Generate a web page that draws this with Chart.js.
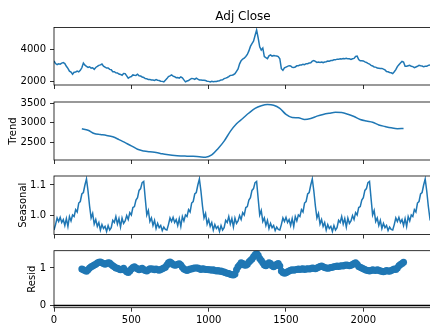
<!DOCTYPE html>
<html>
<head>
<meta charset="utf-8">
<script src="https://cdn.jsdelivr.net/npm/chart.js@4.4.0/dist/chart.umd.min.js"></script>
<style>
  html, body { margin: 0; padding: 0; background: #fff; overflow: hidden; width: 430px; height: 325px; }
  canvas { position: absolute; left: 0; top: 0; }
</style>
</head>
<body>
<canvas id="obs" width="440" height="325"></canvas>
<canvas id="trend" width="440" height="325"></canvas>
<canvas id="seas" width="440" height="325"></canvas>
<canvas id="resid" width="440" height="325"></canvas>
<script>
// time index runs 0..2444, values read every 10 steps
const xStep = 10;
const xMax = 2444;
const xTicks = [0, 500, 1000, 1500, 2000];

const observed = [
  3280,3120,3060,3110,3080,3150,3180,3120,2950,2820,
  2650,2590,2460,2580,2600,2660,2610,2700,2860,3150,
  3020,2950,2880,2920,2840,2860,2760,2880,2940,3010,
  3040,3090,2960,2900,2840,2850,2760,2740,2620,2620,
  2550,2540,2470,2450,2400,2510,2500,2360,2220,2280,
  2320,2420,2400,2390,2460,2370,2350,2290,2260,2190,
  2180,2130,2130,2100,2110,2080,2130,2090,2070,2030,
  2020,1990,2090,2190,2320,2360,2420,2340,2310,2250,
  2260,2220,2290,2240,2110,1990,2040,2070,2140,2200,
  2190,2140,2220,2160,2110,2110,2090,2090,2070,2030,
  2020,1990,2030,2000,2005,2010,2040,2060,2110,2120,
  2190,2220,2260,2310,2390,2400,2430,2490,2640,2790,
  3100,3300,3400,3450,3560,3680,3900,4180,4350,4500,
  4850,5190,4700,4150,3950,4080,3550,3480,3420,3600,
  3660,3580,3620,3600,3590,3550,3420,2800,2700,2850,
  2900,2950,2990,2970,2890,2880,2910,2980,2990,3030,
  3030,3080,3050,3110,3110,3150,3170,3270,3310,3260,
  3190,3210,3190,3210,3180,3220,3230,3280,3270,3310,
  3310,3350,3350,3390,3380,3410,3400,3430,3420,3450,
  3410,3410,3380,3420,3440,3560,3580,3370,3290,3290,
  3280,3220,3190,3130,3090,3010,2970,2910,2900,2840,
  2830,2820,2820,2780,2730,2630,2610,2570,2550,2500,
  2610,2740,2930,3050,3160,3250,3210,2950,2950,2980,
  3010,2950,2930,2870,2910,2950,3010,2980,2970,2920,
  2950,2950,3010,3030,3070
];

const trendIndex = [
  180,220,260,300,340,380,420,460,500,540,580,620,660,700,740,780,820,860,
  900,940,980,1020,1060,1100,1140,1180,1220,1260,1300,1340,1380,1420,1460,
  1500,1540,1580,1620,1660,1700,1740,1780,1820,1860,1900,1940,1980,2020,
  2060,2100,2140,2180,2220,2260
];
const trend = [
  2848,2810,2725,2700,2675,2640,2570,2490,2410,2320,2277,2255,2240,2205,2180,2160,2150,2145,
  2140,2128,2118,2175,2335,2530,2780,2975,3110,3250,3370,3435,3466,3450,3370,
  3215,3135,3130,3085,3110,3170,3215,3245,3268,3262,3220,3160,3085,3045,
  3015,2945,2905,2870,2848,2855
];

const seasonal = [
  0.950,0.968,0.990,0.978,0.992,0.975,0.985,0.965,0.988,0.962,0.995,0.980,1.000,0.995,1.018,1.010,1.040,1.045,1.070,1.075,1.100,1.120,1.080,1.030,0.990,1.005,0.970,0.985,0.962,0.975,0.950,0.968,0.955,0.962,0.945,0.965,0.950,
  0.958,0.982,0.975,0.995,0.970,0.988,0.960,0.990,0.972,0.980,0.998,0.985,1.008,1.000,1.025,1.028,1.050,1.058,1.082,1.088,1.108,1.112,1.055,1.000,1.015,0.978,0.990,0.965,0.982,0.955,0.972,0.958,0.965,0.948,0.960,0.952,
  0.950,0.968,0.990,0.978,0.992,0.975,0.985,0.965,0.988,0.962,0.995,0.980,1.000,0.995,1.018,1.010,1.040,1.045,1.070,1.075,1.100,1.120,1.080,1.030,0.990,1.005,0.970,0.985,0.962,0.975,0.950,0.968,0.955,0.962,0.945,0.965,0.950,
  0.958,0.982,0.975,0.995,0.970,0.988,0.960,0.990,0.972,0.980,0.998,0.985,1.008,1.000,1.025,1.028,1.050,1.058,1.082,1.088,1.108,1.112,1.055,1.000,1.015,0.978,0.990,0.965,0.982,0.955,0.972,0.958,0.965,0.948,0.960,0.952,
  0.950,0.968,0.990,0.978,0.992,0.975,0.985,0.965,0.988,0.962,0.995,0.980,1.000,0.995,1.018,1.010,1.040,1.045,1.070,1.075,1.100,1.120,1.080,1.030,0.990,1.005,0.970,0.985,0.962,0.975,0.950,0.968,0.955,0.962,0.945,0.965,0.950,
  0.958,0.982,0.975,0.995,0.970,0.988,0.960,0.990,0.972,0.980,0.998,0.985,1.008,1.000,1.025,1.028,1.050,1.058,1.082,1.088,1.108,1.112,1.055,1.000,1.015,0.978,0.990,0.965,0.982,0.955,0.972,0.958,0.965,0.948,0.960,0.952,
  0.950,0.968,0.990,0.978,0.992,0.975,0.985,0.965,0.988,0.962,0.995,0.980,1.000,0.995,1.018,1.010,1.040,1.045,1.070,1.075,1.100,1.120,1.080,1.030,0.990,1.005
];

const residStart = 180;
const resid = [
  0.97,0.95,0.93,0.915,0.95,1.0,1.03,1.05,1.08,1.1,
  1.13,1.15,1.16,1.14,1.12,1.1,1.12,1.14,1.13,1.09,
  1.06,1.03,1.0,0.99,0.97,0.95,0.96,0.99,0.94,0.9,
  0.88,0.92,0.97,1.01,1.03,1.0,0.98,0.95,0.97,0.99,
  0.96,0.93,0.92,0.95,0.98,0.97,0.97,0.95,0.97,0.95,
  0.94,0.96,0.98,1.0,1.02,1.08,1.14,1.16,1.13,1.09,
  1.07,1.08,1.1,1.11,1.08,1.02,0.97,0.95,0.93,0.95,
  0.97,0.97,0.99,1.0,1.0,1.0,0.98,0.96,0.98,0.97,
  0.96,0.96,0.95,0.95,0.94,0.95,0.93,0.92,0.93,0.91,
  0.92,0.9,0.89,0.87,0.86,0.85,0.83,0.82,0.81,0.84,
  0.95,1.03,1.08,1.14,1.12,1.08,1.07,1.1,1.16,1.2,
  1.24,1.3,1.35,1.39,1.34,1.25,1.2,1.14,1.08,1.06,
  1.1,1.14,1.12,1.06,1.03,1.06,1.1,1.12,1.05,0.92,
  0.88,0.86,0.87,0.9,0.92,0.94,0.95,0.94,0.95,0.96,
  0.97,0.96,0.97,0.98,0.96,0.97,0.98,0.97,0.98,1.0,
  0.99,0.98,1.0,1.02,1.04,1.05,1.03,1.01,1.0,0.99,
  1.0,1.01,1.02,1.03,1.04,1.05,1.04,1.05,1.06,1.05,
  1.07,1.08,1.07,1.06,1.07,1.09,1.12,1.14,1.1,1.04,
  1.02,1.0,0.98,0.96,0.94,0.93,0.92,0.93,0.95,0.94,
  0.93,0.95,0.94,0.92,0.91,0.9,0.91,0.93,0.92,0.91,
  0.93,0.95,0.97,0.96,1.0,1.06,1.09,1.12,1.15
];

const obsTicks = [2000, 4000];
const trendTicks = [2500, 3000, 3500];
const seasTicks = [1.0, 1.1];
const residTicks = [0, 1];

const blue = '#1f77b4';
const font = { family: 'DejaVu Sans', size: 10 };
const plotLeft = 54, plotRight = 432, canvasW = 440, canvasH = 325;

// frame, title and rotated y label, matplotlib style
const decor = {
  id: 'decor',
  afterDraw(chart, args, opts) {
    const { ctx, chartArea: a } = chart;
    ctx.save();
    ctx.strokeStyle = '#000';
    ctx.lineWidth = 0.8;
    ctx.strokeRect(a.left, a.top, a.right - a.left, a.bottom - a.top);
    ctx.fillStyle = '#000';
    if (opts.title) {
      ctx.font = '12px "DejaVu Sans"';
      ctx.textAlign = 'center';
      ctx.textBaseline = 'alphabetic';
      ctx.fillText(opts.title, (a.left + a.right) / 2, a.top - 8);
    }
    if (opts.ylabel) {
      ctx.font = '10px "DejaVu Sans"';
      const w = Math.max(...chart.scales.y.ticks.map(t => ctx.measureText(t.label).width));
      const x = a.left - 8 - w - 7;
      ctx.translate(x, (a.top + a.bottom) / 2);
      ctx.rotate(-Math.PI / 2);
      ctx.textAlign = 'center';
      ctx.textBaseline = 'middle';
      ctx.fillText(opts.ylabel, 0, 0);
    }
    ctx.restore();
  }
};

function panel(id, p) {
  return new Chart(document.getElementById(id), {
    type: 'line',
    data: { datasets: p.datasets },
    options: {
      responsive: false,
      animation: false,
      events: [],
      layout: { padding: { top: p.top, bottom: canvasH - p.bottom - p.xh, left: 0, right: canvasW - plotRight } },
      plugins: {
        legend: { display: false },
        tooltip: { enabled: false },
        decor: { title: p.title, ylabel: p.ylabel }
      },
      scales: {
        x: {
          type: 'linear', min: 0, max: xMax,
          afterBuildTicks: s => { s.ticks = xTicks.map(v => ({ value: v })); },
          afterFit: s => { s.height = p.xh; },
          grid: { drawOnChartArea: false, tickLength: 4, color: '#000', lineWidth: 0.8 },
          border: { display: false },
          ticks: { display: !!p.xlabels, font, color: '#000', padding: 3, maxRotation: 0, callback: v => String(v) }
        },
        y: {
          min: p.ymin, max: p.ymax,
          afterBuildTicks: s => { s.ticks = p.ticks.map(v => ({ value: v })); },
          afterFit: s => { s.width = plotLeft; },
          grid: { drawOnChartArea: false, tickLength: 4, color: '#000', lineWidth: 0.8 },
          border: { display: false },
          ticks: { font, color: '#000', padding: 4, callback: p.fmt }
        }
      }
    },
    plugins: [decor]
  });
}

const lineSet = (pts) => ({
  data: pts, borderColor: blue, borderWidth: 1.5, pointRadius: 0, fill: false, tension: 0
});

panel('obs', {
  top: 27.5, bottom: 85, xh: 10, title: 'Adj Close',
  ymin: 1796, ymax: 5346, ticks: obsTicks, fmt: v => String(v),
  datasets: [lineSet(observed.map((v, i) => ({ x: i * xStep, y: v })))]
});

panel('trend', {
  top: 102, bottom: 160, xh: 10, ylabel: 'Trend',
  ymin: 2046, ymax: 3533, ticks: trendTicks, fmt: v => String(v),
  datasets: [Object.assign(lineSet(trend.map((v, i) => ({ x: trendIndex[i], y: v }))), { cubicInterpolationMode: 'monotone' })]
});

panel('seas', {
  top: 176, bottom: 234.5, xh: 10, ylabel: 'Seasonal',
  ymin: 0.935, ymax: 1.13, ticks: seasTicks, fmt: v => v.toFixed(1),
  datasets: [lineSet(seasonal.map((v, i) => ({ x: i * xStep, y: v })))]
});

panel('resid', {
  top: 250.7, bottom: 307.7, xh: 17, ylabel: 'Resid', xlabels: true,
  ymin: -0.059, ymax: 1.461, ticks: residTicks, fmt: v => String(v),
  datasets: [
    {
      data: resid.map((v, i) => ({ x: residStart + i * xStep, y: v })),
      showLine: false, pointRadius: 3.5, pointBorderWidth: 0,
      pointBackgroundColor: blue, borderColor: blue, order: 0
    },
    {
      data: [{ x: 0, y: 0 }, { x: xMax, y: 0 }],
      borderColor: '#000', borderWidth: 1.5, pointRadius: 0, order: 1
    }
  ]
});
</script>
</body>
</html>
